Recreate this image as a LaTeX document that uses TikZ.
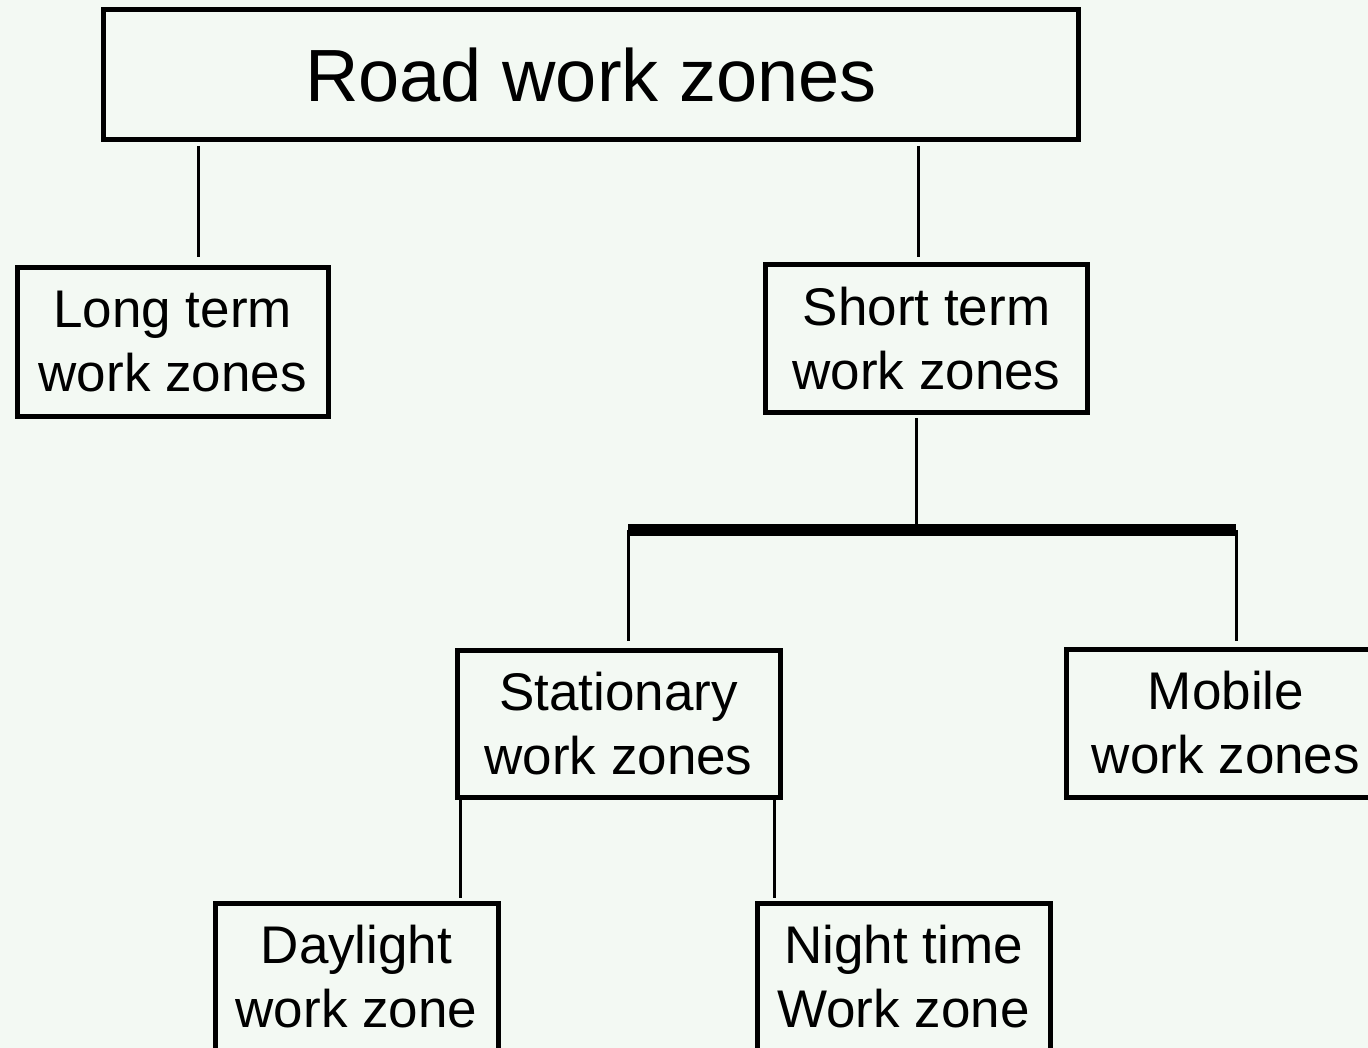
\documentclass[tikz,border=0pt]{standalone}
\usepackage{fontspec}
\setmainfont{Liberation Sans}
\definecolor{bgc}{RGB}{243,249,243}
\begin{document}
\begin{tikzpicture}[x=1pt,y=-1pt,
  box/.style={draw, line width=5pt, inner sep=0pt, align=center, font=\fontsize{53}{64}\selectfont},
  titlebox/.style={box, font=\fontsize{74}{80}\selectfont},
  conn/.style={line width=3pt},
  busbar/.style={line width=12pt}]
\fill[bgc] (0,0) rectangle (1368,1048);
\useasboundingbox (0,0) rectangle (1368,1048);
\clip (0,0) rectangle (1368,1048);

\node[titlebox, minimum width=975pt, minimum height=130pt] (root) at (591,75) {Road work zones};
\node[box, minimum width=310.5pt, minimum height=148pt] (long) at (172.75,342) {Long term\\work zones};
\node[box, minimum width=322.5pt, minimum height=148pt] (short) at (926.5,338.5) {Short term\\work zones};
\node[box, minimum width=323pt, minimum height=147pt] (stat) at (618.5,723.5) {Stationary\\work zones};
\node[box, minimum width=320pt, minimum height=148pt] (mobile) at (1226,723) {Mobile\\work zones};
\node[box, minimum width=283pt, minimum height=147pt] (day) at (356.5,977) {Daylight\\work zone};
\node[box, minimum width=293pt, minimum height=147pt] (night) at (903.5,977) {Night time\\Work zone};

% connector end points
\coordinate (rl1) at (198,146);  \coordinate (rl2) at (198,257);
\coordinate (rs1) at (918,146);  \coordinate (rs2) at (918,257);
\coordinate (sb1) at (916,418);  \coordinate (sb2) at (916,525);
\coordinate (barL) at (628,530); \coordinate (barR) at (1236,530);
\coordinate (bs) at (628,641);   \coordinate (bm) at (1236,641);
\coordinate (sd1) at (460,800);  \coordinate (sd2) at (460,898);
\coordinate (sn1) at (774,800);  \coordinate (sn2) at (774,898);

\draw[conn] (rl1) -- (rl2);
\draw[conn] (rs1) -- (rs2);
\draw[conn] (sb1) -- (sb2);
\draw[busbar] (barL) -- (barR);
\draw[conn] (barL) -- (bs);
\draw[conn] (barR) -- (bm);
\draw[conn] (sd1) -- (sd2);
\draw[conn] (sn1) -- (sn2);
\end{tikzpicture}
\end{document}
